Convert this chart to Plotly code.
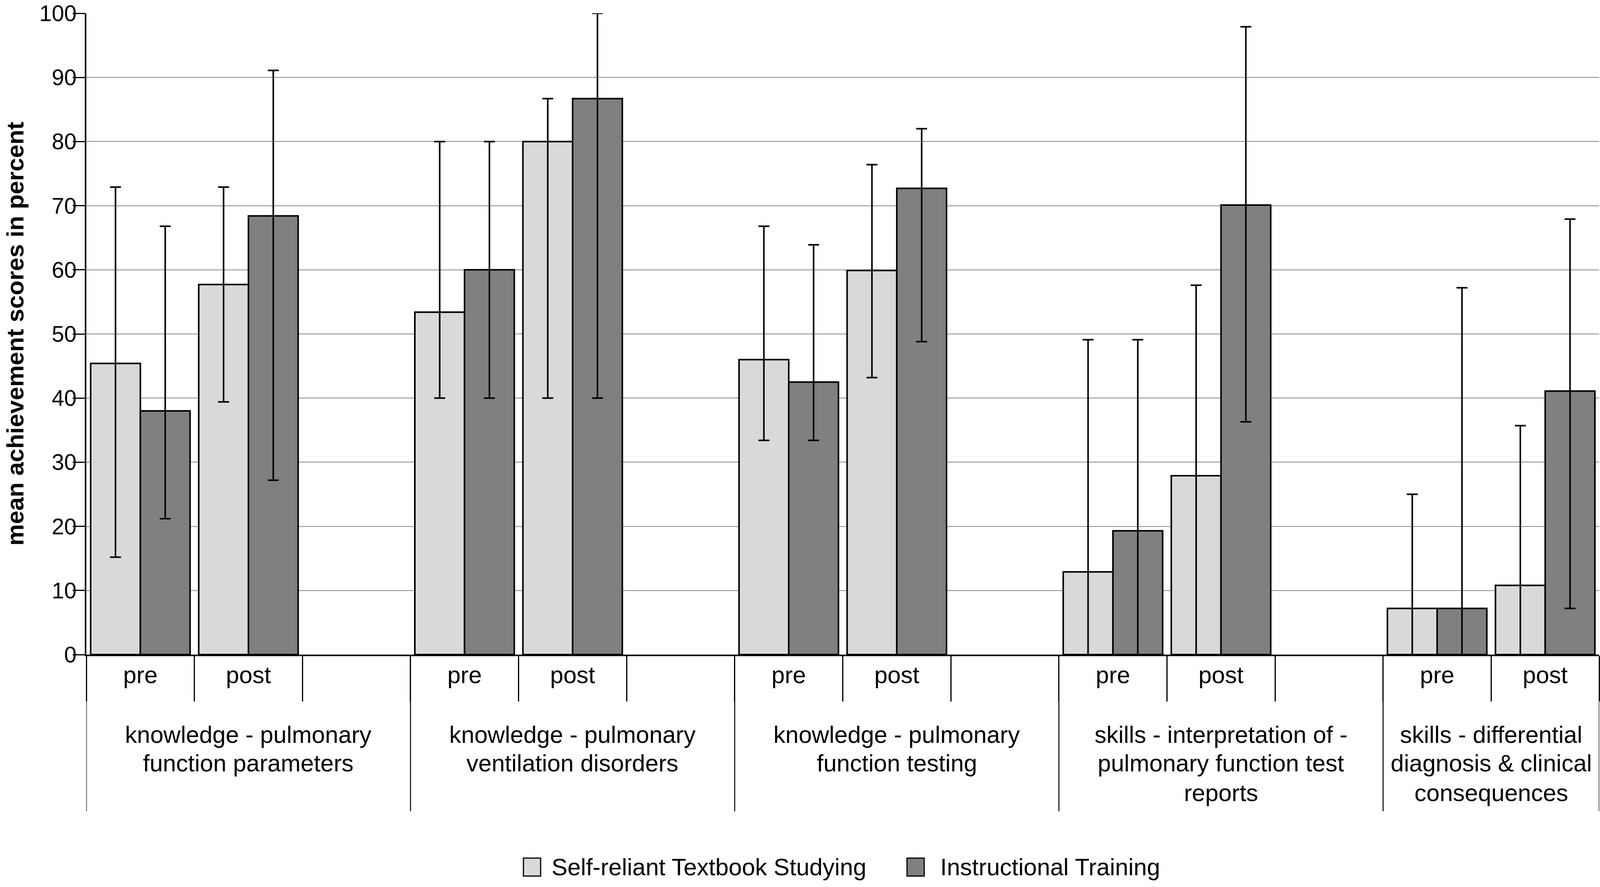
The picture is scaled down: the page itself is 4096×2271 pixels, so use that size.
import plotly.graph_objects as go

# ---------------- data ----------------
group_labels = [
    ["knowledge - pulmonary", "function parameters"],
    ["knowledge - pulmonary", "ventilation disorders"],
    ["knowledge - pulmonary", "function testing"],
    ["skills - interpretation of -", "pulmonary function test", "reports"],
    ["skills - differential", "diagnosis & clinical", "consequences"],
]
phases = ["pre", "post"]
series_names = ["Self-reliant Textbook Studying", "Instructional Training"]
series_colors = ["#d9d9d9", "#808080"]

self_mean = [45.4, 57.7, 53.4, 80.0, 46.0, 59.9, 12.9, 27.9, 7.2, 10.8]
self_hi = [72.9, 72.9, 80.0, 86.7, 66.8, 76.4, 49.1, 57.6, 25.0, 35.7]
self_lo = [15.2, 39.4, 40.0, 40.0, 33.4, 43.2, 0.0, 0.0, 0.0, 0.0]

instr_mean = [38.0, 68.4, 60.0, 86.7, 42.5, 72.7, 19.3, 70.1, 7.2, 41.1]
instr_hi = [66.8, 91.1, 80.0, 100.0, 63.9, 82.0, 49.1, 97.9, 57.2, 67.9]
instr_lo = [21.2, 27.2, 40.0, 40.0, 33.4, 48.8, 0.0, 36.3, 0.0, 7.2]

y_ticks = list(range(0, 101, 10))
y_title = "mean achievement scores in percent"

# ---------------- layout constants ----------------
W, H = 4096, 2271
ML, MT = 221, 34
MR = W - 4094
MB = H - 1676
PW, PH = W - ML - MR, H - MT - MB
FONT = "Liberation Sans, Arial, Helvetica, sans-serif"

def py(pix):  # page pixel y -> paper y
    return (H - MB - pix) / PH

def px(pix):  # page pixel x -> paper x
    return (pix - ML) / PW

n_groups = len(group_labels)
slot_x = []       # x positions of the bars (slot index)
tick_text = []
for g in range(n_groups):
    for p, ph in enumerate(phases):
        slot_x.append(3 * g + p)
        tick_text.append(ph)
n_slots = 3 * n_groups - 1

fig = go.Figure()
for name, col, mean, hi, lo in [
    (series_names[0], series_colors[0], self_mean, self_hi, self_lo),
    (series_names[1], series_colors[1], instr_mean, instr_hi, instr_lo),
]:
    fig.add_trace(go.Bar(
        x=slot_x, y=mean, name=name,
        marker=dict(color=col, line=dict(color="black", width=4)),
        error_y=dict(type="data", symmetric=False,
                     array=[h - m for h, m in zip(hi, mean)],
                     arrayminus=[m - l for m, l in zip(mean, lo)],
                     color="black", thickness=4, width=14),
        cliponaxis=False, showlegend=False,
    ))

fig.update_layout(
    width=W, height=H,
    margin=dict(l=ML, r=MR, t=MT, b=MB, autoexpand=False),
    paper_bgcolor="white", plot_bgcolor="white",
    barmode="group", bargap=0.08, bargroupgap=0,
    font=dict(family=FONT, color="black", size=61),
)

fig.update_xaxes(
    range=[-0.5, n_slots - 0.5], automargin=False,
    tickmode="array", tickvals=slot_x, ticktext=tick_text,
    ticks="", showgrid=False, zeroline=False,
    showline=True, linecolor="black", linewidth=3.5,
    tickfont=dict(size=61, family=FONT),
    ticklabelstandoff=-4,
    minor=dict(tickmode="array", tickvals=[k - 0.5 for k in range(n_slots + 1)],
               ticks="outside", ticklen=116, tickwidth=2.5, tickcolor="black",
               showgrid=False),
)
fig.update_yaxes(
    range=[0, 100], automargin=False, tickmode="array", tickvals=y_ticks,
    ticks="outside", ticklen=31, tickwidth=3, tickcolor="black",
    showline=True, linecolor="black", linewidth=3.5,
    showgrid=True, gridcolor="#8a8a8a", gridwidth=2,
    zeroline=False,
    tickfont=dict(size=57, family=FONT),
    ticklabelstandoff=-21, ticklabeloverflow="allow",
)

# y-axis title
fig.add_annotation(x=px(38), y=py(855), xref="paper", yref="paper",
                   text="<b>" + y_title + "</b>", textangle=-90, showarrow=False,
                   xanchor="center", yanchor="middle",
                   font=dict(size=62, family=FONT))

# long group dividers
for g in range(n_groups + 1):
    xv = 3 * g - 0.5 if g < n_groups else n_slots - 0.5
    fig.add_shape(type="line", xref="x", yref="paper", x0=xv, x1=xv,
                  y0=0, y1=py(2077), line=dict(color="black", width=2.5))

# group labels (one annotation per line)
line_y = [1881, 1954, 2030]
for g, lines in enumerate(group_labels):
    xc = 3 * g + 1 if g < n_groups - 1 else 3 * g + 0.5
    for i, t in enumerate(lines):
        fig.add_annotation(x=xc, y=py(line_y[i]), xref="x", yref="paper",
                           text=t, showarrow=False, yanchor="middle",
                           font=dict(size=61, family=FONT))

# manual legend
leg_items = [(1340, 1410), (2322, 2405)]
for (sx, tx), name, col in zip(leg_items, series_names, series_colors):
    fig.add_shape(type="rect", xref="paper", yref="paper",
                  x0=px(sx), x1=px(sx + 44), y0=py(2197), y1=py(2243),
                  fillcolor=col, line=dict(color="black", width=3))
    fig.add_annotation(x=px(tx), y=py(2220), xref="paper", yref="paper",
                       text=name, showarrow=False, xanchor="left", yanchor="middle",
                       font=dict(size=61, family=FONT))

fig.write_html("out.html", config={"displayModeBar": False},
               post_script="document.body.style.margin='0';document.body.style.overflow='hidden';")
